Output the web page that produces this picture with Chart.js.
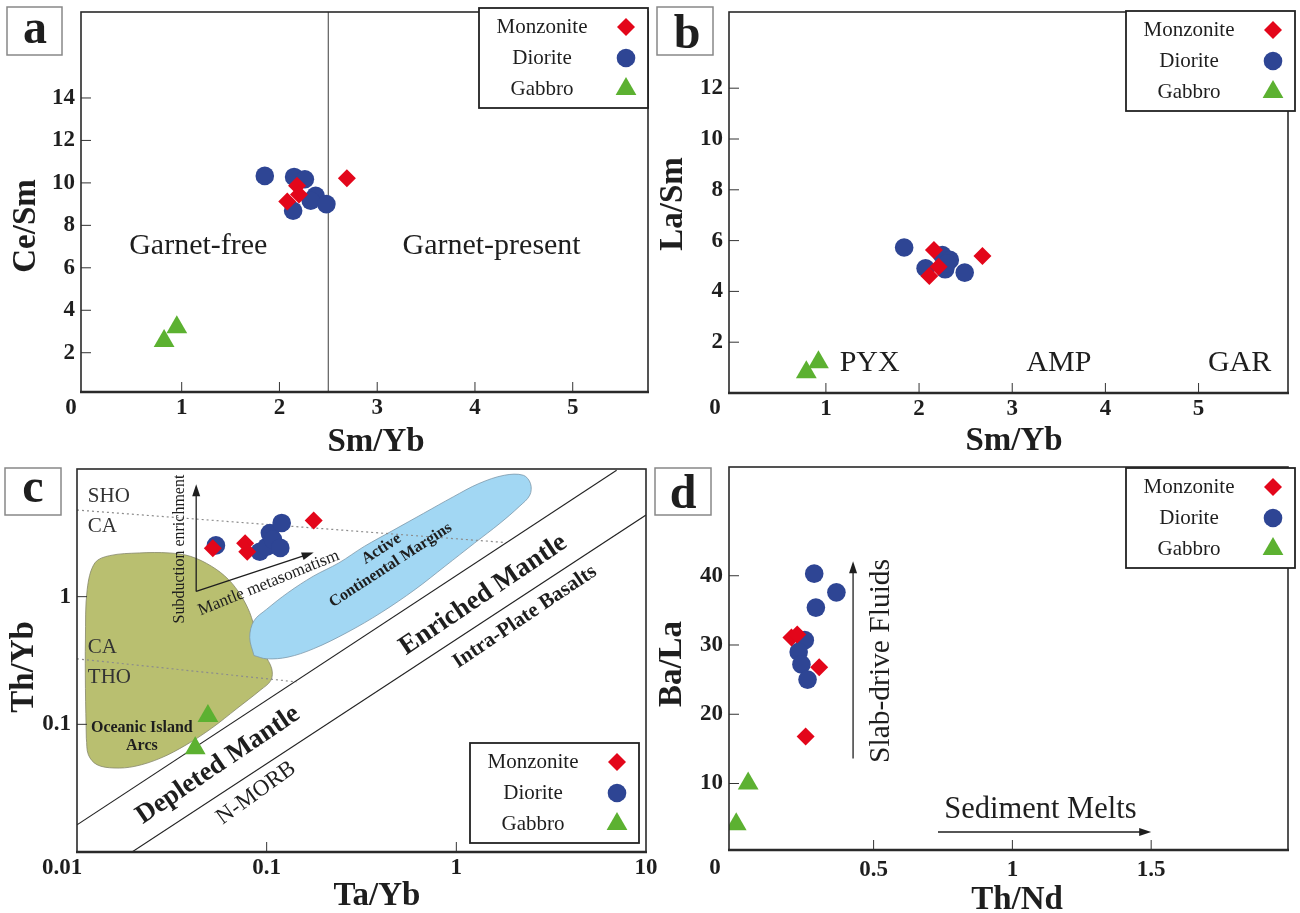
<!DOCTYPE html>
<html lang="en">
<head>
<meta charset="UTF-8">
<title>Trace element ratio diagrams</title>
<script src="https://cdn.jsdelivr.net/npm/chart.js"></script>
<style>
  body { margin: 0; background: #fff; }
  .wrap { position: relative; width: 1300px; height: 913px; }
  .wrap canvas { position: absolute; left: 0; top: 0; }
</style>
</head>
<body>
<div class="wrap">
  <canvas id="chartC" width="1300" height="913"></canvas>
  <canvas id="chartD" width="1300" height="913"></canvas>
  <canvas id="chartA" width="1300" height="913"></canvas>
  <canvas id="chartB" width="1300" height="913"></canvas>
</div>
<script>
// ---- data ----
const rockTypes = ['Monzonite', 'Diorite', 'Gabbro'];

// a) Sm/Yb vs Ce/Sm
const aMonzSmYb = [2.69, 2.18, 2.20, 2.08];
const aMonzCeSm = [10.22, 9.86, 9.45, 9.12];
const aDioSmYb = [1.85, 2.15, 2.26, 2.37, 2.32, 2.48, 2.14];
const aDioCeSm = [10.33, 10.28, 10.17, 9.39, 9.16, 9.0, 8.69];
const aGabSmYb = [0.82, 0.95];
const aGabCeSm = [2.55, 3.2];
const aGarnetSmYb = 2.5;
const aXTicks = [1, 2, 3, 4, 5];
const aYTicks = [2, 4, 6, 8, 10, 12, 14, 16];
const aYLabels = [2, 4, 6, 8, 10, 12, 14];

// b) Sm/Yb vs La/Sm
const bMonzSmYb = [2.16, 2.21, 2.11, 2.68];
const bMonzLaSm = [5.63, 4.97, 4.61, 5.39];
const bDioSmYb = [1.84, 2.07, 2.25, 2.33, 2.28, 2.49, 2.30];
const bDioLaSm = [5.73, 4.91, 5.43, 5.24, 4.87, 4.74, 5.1];
const bGabSmYb = [0.79, 0.92];
const bGabLaSm = [0.82, 1.21];
const bXTicks = [1, 2, 3, 4, 5];
const bYTicks = [1, 2, 3, 4, 5, 6, 7, 8, 9, 10, 11, 12, 13, 14];
const bYLabels = [2, 4, 6, 8, 10, 12];

// c) Ta/Yb vs Th/Yb (log-log)
const cMonzTaYb = [0.052, 0.077, 0.079, 0.177];
const cMonzThYb = [2.4, 2.62, 2.25, 3.95];
const cDioTaYb = [0.054, 0.092, 0.100, 0.104, 0.108, 0.118, 0.120];
const cDioThYb = [2.52, 2.25, 2.46, 3.15, 2.8, 2.41, 3.78];
const cGabTaYb = [0.049, 0.042];
const cGabThYb = [0.116, 0.065];
// Oceanic Island Arcs field outline
const cArcTaYb = [0.0112, 0.01108, 0.01108, 0.01132, 0.01242, 0.01486, 0.0213, 0.0306, 0.0396, 0.0512, 0.0629,
  0.0734, 0.0814, 0.0879, 0.0975, 0.1064, 0.1052, 0.0925, 0.0697, 0.0512, 0.0376, 0.0276, 0.0202, 0.01566, 0.01274, 0.01148];
const cArcThYb = [0.0778, 0.1905, 0.466, 1.14, 1.837, 2.096, 2.20, 2.20, 2.07, 1.73, 1.363,
  1.012, 0.751, 0.525, 0.356, 0.272, 0.221, 0.185, 0.133, 0.0931, 0.069, 0.0544, 0.0469, 0.0455, 0.0483, 0.0578];
// Active Continental Margins field outline
const cAcmTaYb = [0.0857, 0.0814, 0.0857, 0.100, 0.1294, 0.1762, 0.240, 0.327, 0.469, 0.673, 0.964, 1.314, 1.789,
  2.256, 2.461, 2.44, 2.143, 1.70, 1.248, 0.871, 0.607, 0.402, 0.266, 0.176, 0.1294, 0.100];
const cAcmThYb = [0.346, 0.480, 0.647, 0.797, 1.074, 1.447, 1.837, 2.475, 3.337, 4.50, 6.06, 7.69, 8.93,
  8.93, 7.69, 6.24, 5.07, 3.76, 2.63, 1.73, 1.14, 0.751, 0.525, 0.390, 0.336, 0.326];
const cUpperTaYb = [0.01, 7.0], cUpperThYb = [0.0163, 9.77];
const cLowerTaYb = [0.0195, 10], cLowerThYb = [0.01, 4.36];
const cShoTaYb = [0.01, 1.79], cShoThYb = [4.77, 2.66];
const cThoTaYb = [0.01, 0.1435], cThoThYb = [0.326, 0.215];
const cDecades = [0.01, 0.1, 1];
const cSteps = [1, 2, 3, 4, 5, 6, 7, 8, 9];
const cTicks = cDecades.flatMap(d => cSteps.map(m => +(d * m).toPrecision(2))).concat([10]);
const cXLabels = [0.1, 1, 10];   // 0.01 sits at the corner, drawn separately
const cYLabels = [0.1, 1];
const cMajor = [0.01, 0.1, 1, 10];

// d) Th/Nd vs Ba/La
const dMonzThNd = [0.204, 0.225, 0.304, 0.255];
const dMonzBaLa = [31.1, 31.5, 26.8, 16.8];
const dDioThNd = [0.286, 0.366, 0.292, 0.252, 0.230, 0.240, 0.262];
const dDioBaLa = [40.3, 37.6, 35.4, 30.7, 29.0, 27.2, 25.0];
const dGabThNd = [0.048, 0.005];
const dGabBaLa = [10.0, 4.1];
const dXTicks = [0.1, 0.2, 0.3, 0.4, 0.5, 0.6, 0.7, 0.8, 0.9, 1, 1.1, 1.2, 1.3, 1.4, 1.5, 1.6, 1.7, 1.8, 1.9];
const dXLabels = [0.5, 1, 1.5];
const dYTicks = [5, 10, 15, 20, 25, 30, 35, 40, 45, 50];
const dYLabels = [10, 20, 30, 40];

// ---- styling ----
const SERIF = "'Liberation Serif', 'Times New Roman', serif";
const INK = '#1e1e1e';
const MONZ = '#e3061a', DIO = '#2e4594', GAB = '#5cb131';
const styles = [
  { style: 'rectRot', r: 9, color: MONZ },
  { style: 'circle', r: 9.3, color: DIO },
  { style: 'triangle', r: 12, color: GAB }
];
Chart.defaults.font.family = SERIF;

function pts(xs, ys) { return xs.map((x, i) => ({ x: x, y: ys[i] })); }
function ring(xs, ys) { const p = pts(xs, ys); p.push(p[0]); return p; }

function sampleSets(series) {
  return series.map((s, i) => ({
    type: 'scatter', label: rockTypes[i], data: pts(s[0], s[1]),
    pointStyle: styles[i].style, pointRadius: styles[i].r, pointHoverRadius: styles[i].r,
    backgroundColor: styles[i].color, borderColor: styles[i].color, borderWidth: 0, order: i
  }));
}

function lineSet(data, color, width, dash, order) {
  return { type: 'line', data: data, borderColor: color, borderWidth: width, borderDash: dash || [],
    pointRadius: 0, fill: false, tension: 0, order: order || 5 };
}

function axis(type, min, max, ticks, labels, horizontal, pad) {
  return {
    type: type, min: min, max: max,
    grid: { display: false, drawTicks: false }, border: { display: false },
    afterBuildTicks: s => { s.ticks = ticks.map(v => ({ value: v })); },
    afterFit: s => {
      if (horizontal) s.height = 50; else s.width = 70;
      s.paddingTop = 0; s.paddingBottom = 0; s.paddingLeft = 0; s.paddingRight = 0;
    },
    ticks: { padding: pad, color: INK, autoSkip: false, maxRotation: 0,
      font: { size: 23, weight: 'bold' },
      callback: v => labels.includes(v) ? String(v) : null }
  };
}

function marker(ctx, st, x, y) {
  const r = st.r;
  ctx.fillStyle = st.color;
  ctx.beginPath();
  if (st.style === 'circle') ctx.arc(x, y, r, 0, Math.PI * 2);
  else if (st.style === 'rectRot') { ctx.moveTo(x, y - r); ctx.lineTo(x + r, y); ctx.lineTo(x, y + r); ctx.lineTo(x - r, y); }
  else { ctx.moveTo(x, y - r); ctx.lineTo(x + r * 0.866, y + r / 2); ctx.lineTo(x - r * 0.866, y + r / 2); }
  ctx.closePath();
  ctx.fill();
}

// frame, inward ticks, legend, panel letter, titles and notes
const deco = {
  id: 'deco',
  afterDatasetsDraw(chart, args, o) {
    const ctx = chart.ctx, a = chart.chartArea;
    const xs = chart.scales.x, ys = chart.scales.y;
    const px = (v, f) => f ? a.left + v * (a.right - a.left) : xs.getPixelForValue(v);
    const py = (v, f) => f ? a.top + v * (a.bottom - a.top) : ys.getPixelForValue(v);
    ctx.save();
    (o.arrows || []).forEach(r => {
      const x0 = px(r[0]), y0 = py(r[1]), x1 = px(r[2]), y1 = py(r[3]);
      const ang = Math.atan2(y1 - y0, x1 - x0), L = 12, W = 4;
      ctx.strokeStyle = INK; ctx.fillStyle = INK; ctx.lineWidth = 1.3;
      ctx.beginPath(); ctx.moveTo(x0, y0); ctx.lineTo(x1 - 6 * Math.cos(ang), y1 - 6 * Math.sin(ang)); ctx.stroke();
      ctx.beginPath(); ctx.moveTo(x1, y1);
      ctx.lineTo(x1 - L * Math.cos(ang) + W * Math.sin(ang), y1 - L * Math.sin(ang) - W * Math.cos(ang));
      ctx.lineTo(x1 - L * Math.cos(ang) - W * Math.sin(ang), y1 - L * Math.sin(ang) + W * Math.cos(ang));
      ctx.closePath(); ctx.fill();
    });
    (o.texts || []).forEach(t => {
      ctx.save();
      ctx.translate(px(t.x, t.frac), py(t.y, t.frac));
      ctx.rotate((t.rot || 0) * Math.PI / 180);
      ctx.font = (t.bold ? 'bold ' : '') + t.size + 'px ' + SERIF;
      ctx.fillStyle = t.color || INK;
      ctx.textAlign = t.align || 'center';
      ctx.textBaseline = 'middle';
      ctx.fillText(t.text, 0, 0);
      ctx.restore();
    });
    ctx.restore();
  },
  afterDraw(chart, args, o) {
    const ctx = chart.ctx, a = chart.chartArea;
    const xs = chart.scales.x, ys = chart.scales.y;
    const seg = (x0, y0, x1, y1) => { ctx.beginPath(); ctx.moveTo(x0, y0); ctx.lineTo(x1, y1); ctx.stroke(); };
    ctx.save();
    // ticks pointing into the plot
    ctx.strokeStyle = '#333'; ctx.lineWidth = 1;
    xs.ticks.forEach(t => {
      const p = xs.getPixelForValue(t.value);
      if (p <= a.left + 1 || p >= a.right - 1) return;
      const len = o.major && !o.major.includes(t.value) ? 6 : 10;
      seg(p, a.bottom, p, a.bottom - len);
    });
    ys.ticks.forEach(t => {
      const p = ys.getPixelForValue(t.value);
      if (p <= a.top + 1 || p >= a.bottom - 1) return;
      const len = o.major && !o.major.includes(t.value) ? 6 : 10;
      seg(a.left, p, a.left + len, p);
    });
    // frame
    ctx.strokeStyle = '#2a2a2a'; ctx.lineWidth = 1.6;
    ctx.strokeRect(a.left, a.top, a.right - a.left, a.bottom - a.top);
    ctx.lineWidth = 2.6;
    seg(a.left - 1, a.bottom, a.right + 1, a.bottom);
    // legend box
    const L = o.legend;
    ctx.fillStyle = '#fff'; ctx.fillRect(L.x, L.y, 169, 100);
    ctx.strokeStyle = '#222'; ctx.lineWidth = 1.8; ctx.strokeRect(L.x, L.y, 169, 100);
    ctx.font = '21px ' + SERIF; ctx.textAlign = 'center'; ctx.textBaseline = 'middle';
    rockTypes.forEach((name, i) => {
      const y = L.y + 19 + i * 31;
      ctx.fillStyle = INK; ctx.fillText(name, L.x + 63, y);
      marker(ctx, styles[i], L.x + 147, y);
    });
    // panel letter
    const P = o.letter;
    ctx.strokeStyle = '#888'; ctx.lineWidth = 1.5; ctx.strokeRect(P.bx, P.by, P.bw, P.bh);
    ctx.font = 'bold 48px ' + SERIF; ctx.fillStyle = INK; ctx.textAlign = 'center'; ctx.textBaseline = 'alphabetic';
    ctx.fillText(P.t, P.x, P.y);
    // axis titles
    ctx.font = 'bold 33px ' + SERIF; ctx.textBaseline = 'middle';
    ctx.fillText(o.xTitle.text, o.xTitle.x, o.xTitle.y);
    ctx.save(); ctx.translate(o.yTitle.x, o.yTitle.y); ctx.rotate(-Math.PI / 2);
    ctx.fillText(o.yTitle.text, 0, 0); ctx.restore();
    // shared origin label
    if (o.corner) { ctx.font = 'bold 23px ' + SERIF; ctx.fillText(o.corner.text, o.corner.x, o.corner.y); }
    ctx.restore();
  }
};

function build(id, area, x, y, datasets, decoOpts) {
  return new Chart(document.getElementById(id), {
    type: 'scatter',
    data: { datasets: datasets },
    options: {
      responsive: false, animation: false, events: [],
      layout: { padding: { left: area.l - 70, top: area.t, right: 1300 - area.r, bottom: 913 - area.b - 50 } },
      plugins: { legend: { display: false }, tooltip: { enabled: false }, deco: decoOpts },
      scales: { x: x, y: y }
    },
    plugins: [deco]
  });
}

// ---- a ----
build('chartA', { l: 81, t: 10, r: 648, b: 392 },
  axis('linear', -0.03, 5.77, aXTicks, aXTicks, true, 2),
  axis('linear', 0.15, 18.05, aYTicks, aYLabels, false, 6),
  sampleSets([[aMonzSmYb, aMonzCeSm], [aDioSmYb, aDioCeSm], [aGabSmYb, aGabCeSm]]).concat([
    lineSet([{ x: aGarnetSmYb, y: 0.15 }, { x: aGarnetSmYb, y: 18.05 }], '#6a6a6a', 1.3)
  ]),
  {
    legend: { x: 479, y: 8 },
    letter: { t: 'a', bx: 7, by: 7, bw: 55, bh: 48, x: 35, y: 43 },
    xTitle: { text: 'Sm/Yb', x: 376, y: 442 },
    yTitle: { text: 'Ce/Sm', x: 26, y: 226 },
    corner: { text: '0', x: 71, y: 408 },
    texts: [
      { text: 'Garnet-free', x: 1.17, y: 7.0, size: 30 },
      { text: 'Garnet-present', x: 4.17, y: 7.0, size: 30 }
    ]
  });

// ---- b ----
build('chartB', { l: 729, t: 10, r: 1293, b: 393 },
  axis('linear', -0.04, 5.96, bXTicks, bXTicks, true, 2),
  axis('linear', 0, 15, bYTicks, bYLabels, false, 6),
  sampleSets([[bMonzSmYb, bMonzLaSm], [bDioSmYb, bDioLaSm], [bGabSmYb, bGabLaSm]]),
  {
    legend: { x: 1126, y: 11 },
    letter: { t: 'b', bx: 657, by: 7, bw: 56, bh: 48, x: 687, y: 48 },
    xTitle: { text: 'Sm/Yb', x: 1014, y: 441 },
    yTitle: { text: 'La/Sm', x: 673, y: 204 },
    corner: { text: '0', x: 715, y: 408 },
    texts: [
      { text: 'PYX', x: 1.47, y: 1.16, size: 30 },
      { text: 'AMP', x: 3.5, y: 1.16, size: 30 },
      { text: 'GAR', x: 5.44, y: 1.16, size: 30 }
    ]
  });

// ---- c ----
build('chartC', { l: 77, t: 469, r: 646, b: 852 },
  axis('logarithmic', 0.01, 10, cTicks, cXLabels, true, 2),
  axis('logarithmic', 0.01, 10, cTicks, cYLabels, false, 6),
  sampleSets([[cMonzTaYb, cMonzThYb], [cDioTaYb, cDioThYb], [cGabTaYb, cGabThYb]]).concat([
    lineSet(pts(cUpperTaYb, cUpperThYb), '#222', 1.1),
    lineSet(pts(cLowerTaYb, cLowerThYb), '#222', 1.1),
    lineSet(pts(cShoTaYb, cShoThYb), '#8c8c8c', 1.2, [2, 3]),
    lineSet(pts(cThoTaYb, cThoThYb), '#8c8c8c', 1.2, [2, 3]),
    { type: 'line', data: ring(cAcmTaYb, cAcmThYb), borderColor: '#7d98aa', borderWidth: 0.8, pointRadius: 0,
      backgroundColor: '#a2d7f3', fill: 'shape', tension: 0.35, order: 9 },
    { type: 'line', data: ring(cArcTaYb, cArcThYb), borderColor: '#85876a', borderWidth: 0.8, pointRadius: 0,
      backgroundColor: '#b9bf70', fill: 'shape', tension: 0.35, order: 10 }
  ]),
  {
    major: cMajor,
    legend: { x: 470, y: 743 },
    letter: { t: 'c', bx: 5, by: 468, bw: 56, bh: 47, x: 33, y: 502 },
    xTitle: { text: 'Ta/Yb', x: 377, y: 896 },
    yTitle: { text: 'Th/Yb', x: 24, y: 667 },
    corner: { text: '0.01', x: 62, y: 868 },
    arrows: [[0.0425, 1.1, 0.0425, 7.6], [0.0425, 1.1, 0.177, 2.22]],
    texts: [
      { text: 'SHO', x: 0.019, y: 0.072, frac: 1, size: 21, align: 'left', color: '#333' },
      { text: 'CA', x: 0.019, y: 0.151, frac: 1, size: 21, align: 'left', color: '#333' },
      { text: 'CA', x: 0.019, y: 0.467, frac: 1, size: 21, align: 'left', color: '#333' },
      { text: 'THO', x: 0.019, y: 0.545, frac: 1, size: 21, align: 'left', color: '#333' },
      { text: 'Oceanic Island', x: 0.114, y: 0.675, frac: 1, size: 16, bold: 1 },
      { text: 'Arcs', x: 0.114, y: 0.723, frac: 1, size: 16, bold: 1 },
      { text: 'Subduction enrichment', x: 0.181, y: 0.209, frac: 1, size: 16, rot: -90 },
      { text: 'Mantle metasomatism', x: 0.337, y: 0.298, frac: 1, size: 17, rot: -22 },
      { text: 'Active', x: 0.535, y: 0.209, frac: 1, size: 16, bold: 1, rot: -33 },
      { text: 'Continental Margins', x: 0.551, y: 0.251, frac: 1, size: 16, bold: 1, rot: -33 },
      { text: 'Enriched Mantle', x: 0.714, y: 0.329, frac: 1, size: 27, bold: 1, rot: -34 },
      { text: 'Intra-Plate Basalts', x: 0.787, y: 0.386, frac: 1, size: 21, bold: 1, rot: -34 },
      { text: 'Depleted Mantle', x: 0.248, y: 0.773, frac: 1, size: 27, bold: 1, rot: -34 },
      { text: 'N-MORB', x: 0.315, y: 0.846, frac: 1, size: 23, rot: -36 }
    ]
  });

// ---- d ----
build('chartD', { l: 729, t: 467, r: 1293, b: 850 },
  axis('linear', -0.021, 1.993, dXTicks, dXLabels, true, 6),
  axis('linear', 0.4, 55.7, dYTicks, dYLabels, false, 6),
  sampleSets([[dMonzThNd, dMonzBaLa], [dDioThNd, dDioBaLa], [dGabThNd, dGabBaLa]]),
  {
    legend: { x: 1126, y: 468 },
    letter: { t: 'd', bx: 655, by: 468, bw: 56, bh: 47, x: 683, y: 508 },
    xTitle: { text: 'Th/Nd', x: 1017, y: 900 },
    yTitle: { text: 'Ba/La', x: 672, y: 664 },
    corner: { text: '0', x: 715, y: 868 },
    arrows: [[0.426, 13.6, 0.426, 42.1], [0.732, 3.0, 1.5, 3.0]],
    texts: [
      { text: 'Slab-drive Fluids', x: 0.526, y: 27.7, size: 29.5, rot: -90 },
      { text: 'Sediment Melts', x: 1.101, y: 6.15, size: 30.5 }
    ]
  });
</script>
</body>
</html>
